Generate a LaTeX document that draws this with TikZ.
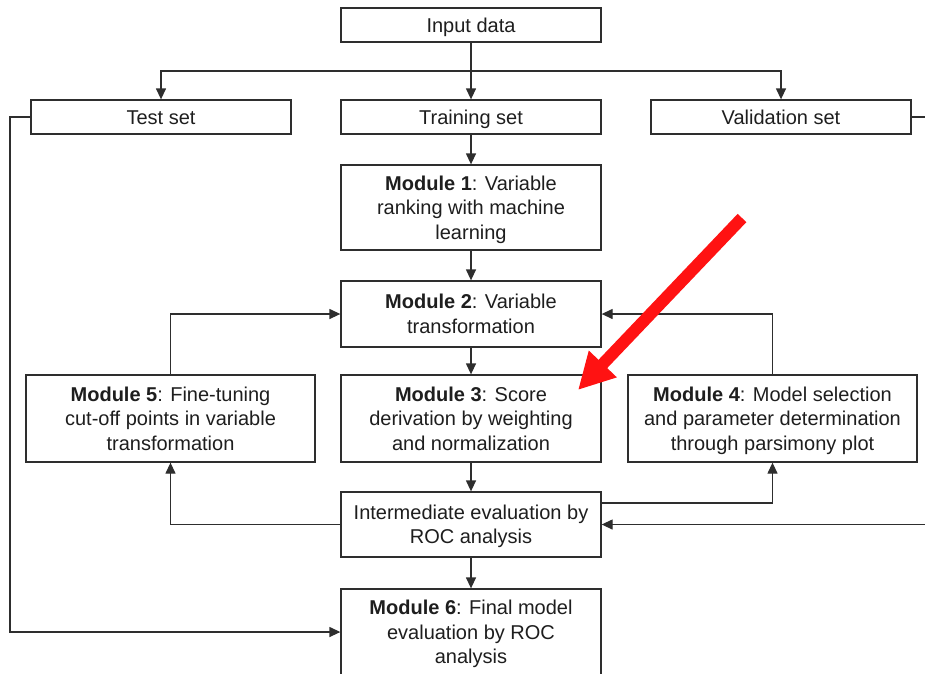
\documentclass[tikz,border=0pt]{standalone}
\usepackage{fontspec}
\setmainfont{Liberation Sans}
\usetikzlibrary{arrows.meta}
\definecolor{linegray}{HTML}{2E2E2E}
\definecolor{textgray}{HTML}{1E1E1E}
\definecolor{pointer}{RGB}{255,18,18}
\begin{document}
\begin{tikzpicture}[x=1pt,y=-1pt,
  box/.style={draw=linegray,line width=1.3pt,fill=white,inner sep=0pt,
    minimum width=260pt,text=textgray,align=center,
    font=\fontsize{20}{24.5}\selectfont},
  widebox/.style={box,minimum width=289pt},
  % text boxes sized so that the caps of the lines sit centred
  oneline/.style={text height=14.3pt,text depth=0pt},
  twolines/.style={text height=38.8pt,text depth=0pt},
  threelines/.style={text height=63.3pt,text depth=0pt},
  flow/.style={draw=linegray,line width=1.3pt,
    -{Triangle[length=11pt,width=10pt]}},
  plain/.style={draw=linegray,line width=1.3pt}]
\useasboundingbox (0,0) rectangle (925,673);
\clip (0,0) rectangle (925,673);

% boxes
\node[box,oneline,minimum height=34pt] (input) at (471,25) {Input data};
\node[box,oneline,minimum height=34pt] (test)  at (161,117) {Test set};
\node[box,oneline,minimum height=34pt] (train) at (471,117) {Training set};
\node[box,oneline,minimum height=34pt] (valid) at (781,117) {Validation set};
\node[box,threelines,minimum height=85pt] (m1) at (471,207.5)
  {\textbf{Module 1}: Variable\\ranking with machine\\learning};
\node[box,twolines,minimum height=66pt] (m2) at (471,314)
  {\textbf{Module 2}: Variable\\transformation};
\node[widebox,threelines,minimum height=87pt] (m5) at (170.5,418.5)
  {\textbf{Module 5}: Fine-tuning\\cut-off points in variable\\transformation};
\node[box,threelines,minimum height=87pt] (m3) at (471,418.5)
  {\textbf{Module 3}: Score\\derivation by weighting\\and normalization};
\node[widebox,threelines,minimum height=87pt] (m4) at (772.5,418.5)
  {\textbf{Module 4}: Model selection\\and parameter determination\\through parsimony plot};
\node[box,twolines,minimum height=65pt] (inter) at (471,524.5)
  {Intermediate evaluation by\\ROC analysis};
\node[box,threelines,minimum height=86pt] (m6) at (471,632)
  {\textbf{Module 6}: Final model\\evaluation by ROC\\analysis};

% helper points
\coordinate (split) at (471,71);
\coordinate (testleft) at (10,117);
\coordinate (validright) at (925,117);
\coordinate (validback) at (925,524.5);

% data split
\draw[plain] (input.south) -- (split);
\draw[flow] (split) -| (test.north);
\draw[flow] (split) -| (valid.north);
\draw[flow] (split) -- (train.north);

% main chain
\draw[flow] (train) -- (m1);
\draw[flow] (m1) -- (m2);
\draw[flow] (m2) -- (m3);
\draw[flow] (m3) -- (inter);
\draw[flow] (inter) -- (m6);

% test set to final evaluation
\draw[flow] (test.west) -- (testleft) |- (m6.west);

% validation set to intermediate evaluation
\draw[plain] (valid.east) -- (validright);
\draw[flow] (validback) -- (inter.east);

% feedback loops
\draw[flow] (inter.west) -| (m5.south);
\draw[flow] (m5.north) |- (m2.west);
\draw[flow] (inter.east |- 0,503) -| (m4.south);
\draw[flow] (m4.north) |- (m2.east);

% highlight pointer
\coordinate (ptail) at (742,218);
\coordinate (ptip) at (578,390);
\draw[pointer,line width=12pt,-{Triangle[length=36pt,width=36pt]}] (ptail) -- (ptip);
\end{tikzpicture}
\end{document}
